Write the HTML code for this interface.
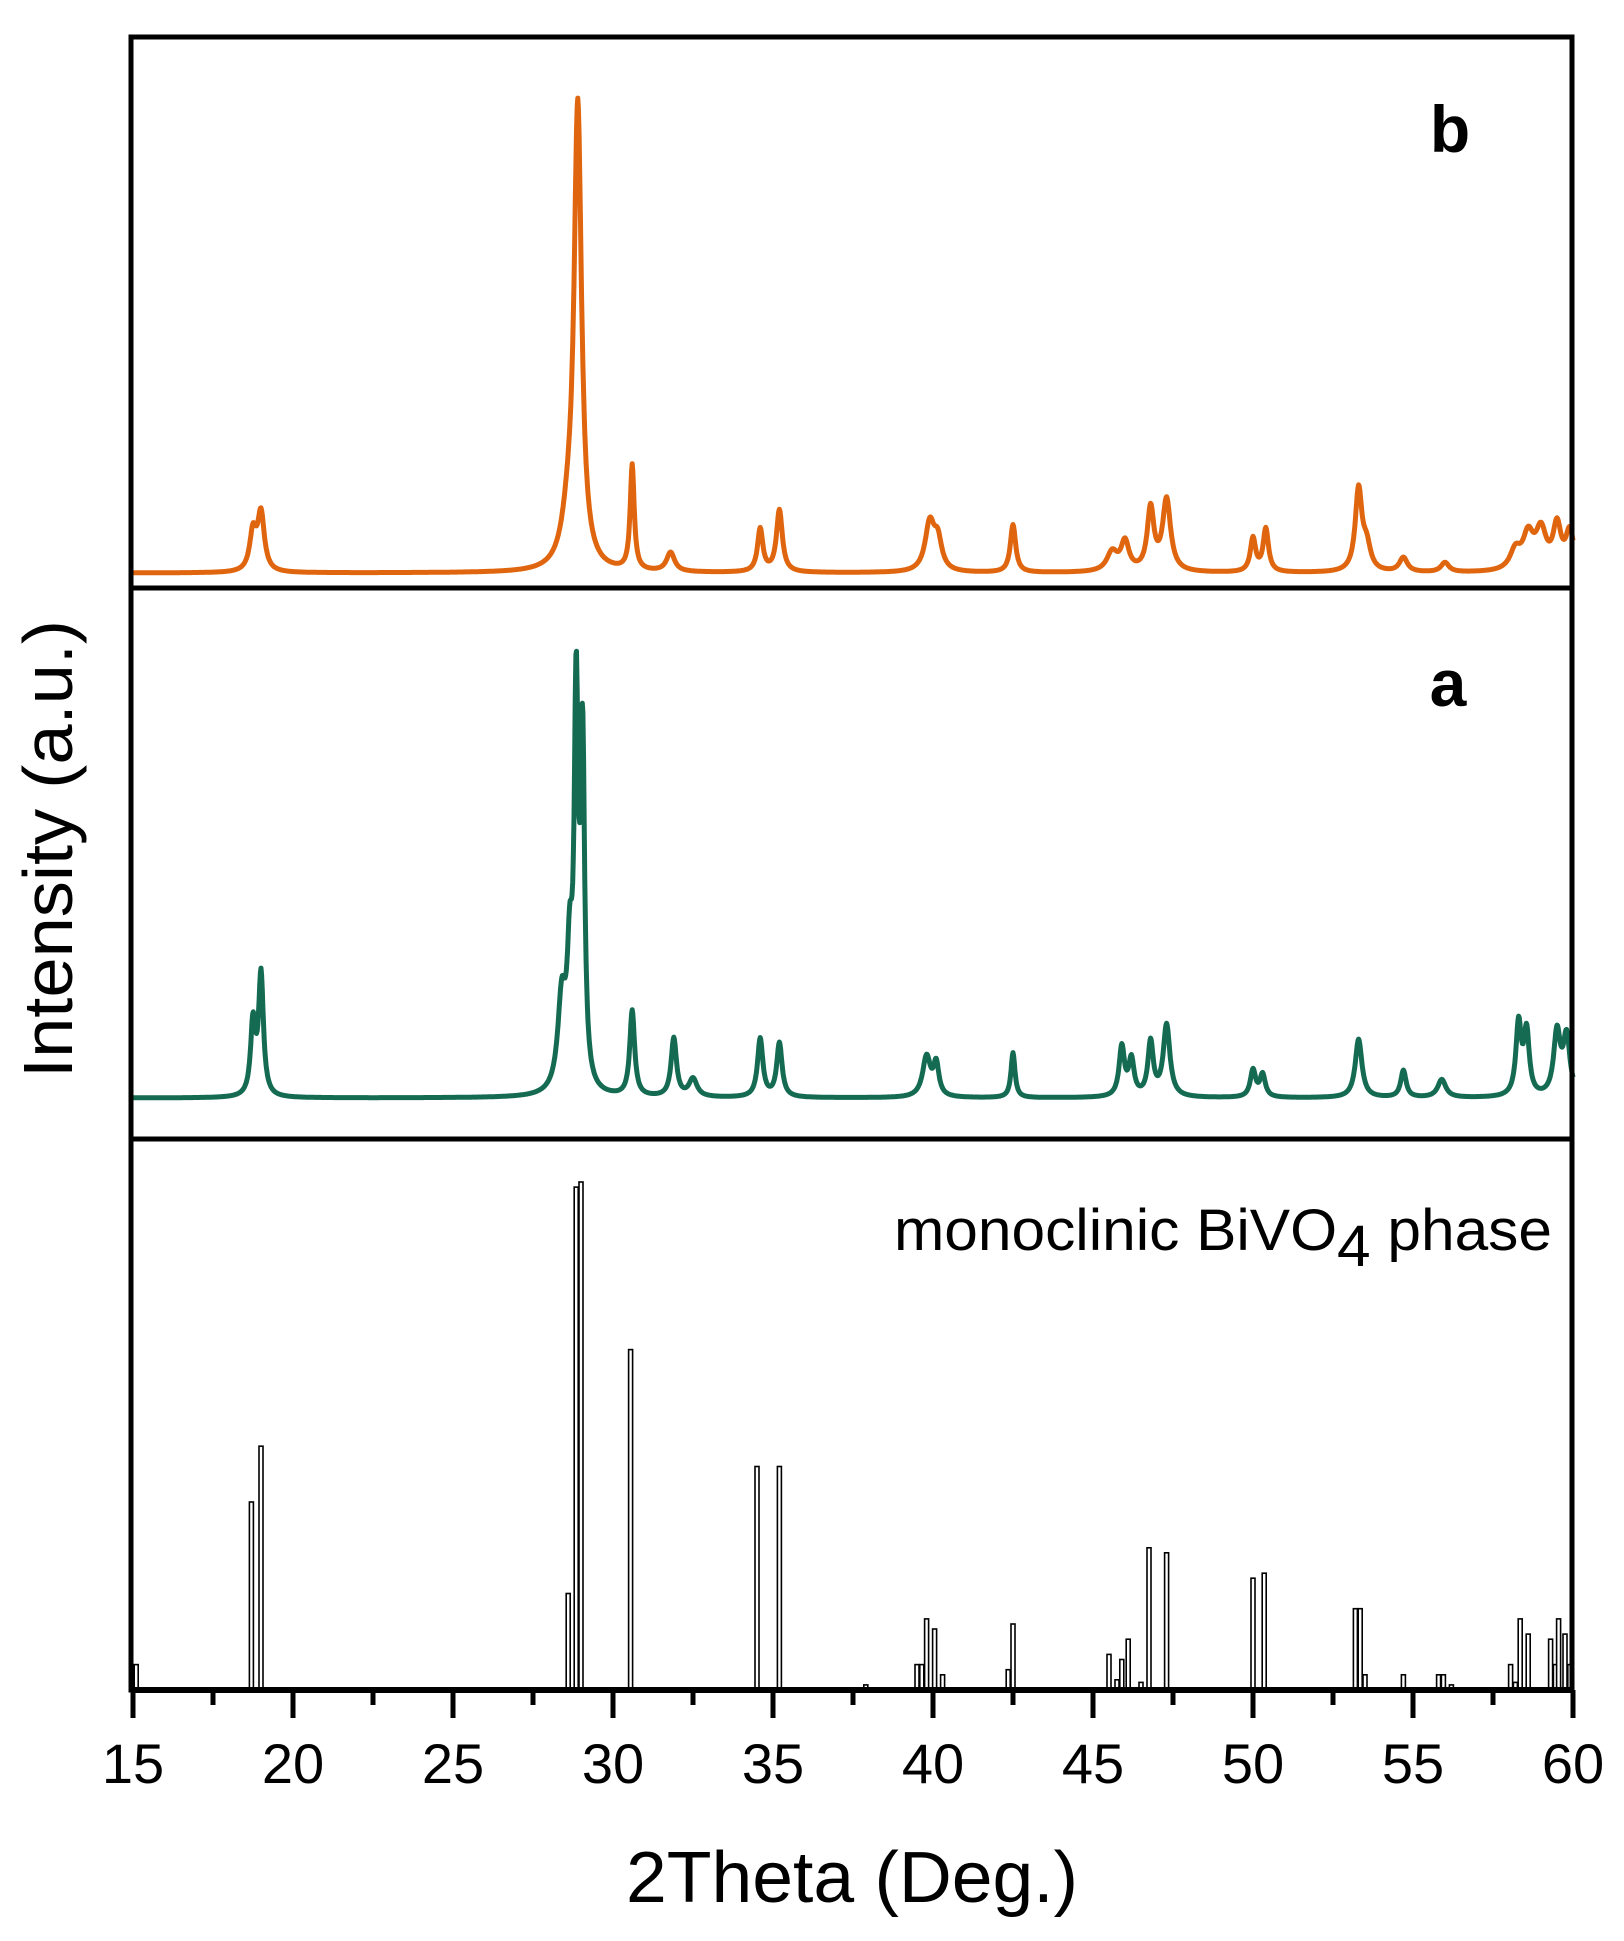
<!DOCTYPE html>
<html><head><meta charset="utf-8"><style>
html,body{margin:0;padding:0;background:#fff;}
svg{display:block;font-family:"Liberation Sans",Arial,sans-serif;}
</style></head><body>
<svg id="chart" width="1624" height="1941" viewBox="0 0 1624 1941" xmlns="http://www.w3.org/2000/svg">
<g id="plot"></g>
<g id="frame">
<rect x="131" y="37" width="1441" height="1653" fill="none" stroke="#000" stroke-width="5"/>
<line x1="131" y1="588" x2="1572" y2="588" stroke="#000" stroke-width="5"/>
<line x1="131" y1="1139" x2="1572" y2="1139" stroke="#000" stroke-width="5"/>
<line x1="131" y1="1690" x2="1574" y2="1690" stroke="#000" stroke-width="6"/>
</g>
<g id="ticks"></g>
<text x="1450" y="152" font-size="66" font-weight="bold" text-anchor="middle">b</text>
<text x="1448" y="706" font-size="66" font-weight="bold" text-anchor="middle">a</text>
<text x="1552" y="1250" font-size="58" text-anchor="end" textLength="658" lengthAdjust="spacingAndGlyphs">monoclinic BiVO<tspan dy="16">4</tspan><tspan dy="-16"> phase</tspan></text>
<text transform="translate(72,849) rotate(-90)" font-size="70" text-anchor="middle" textLength="458" lengthAdjust="spacingAndGlyphs">Intensity (a.u.)</text>
<text x="852" y="1902" font-size="72" text-anchor="middle" textLength="452" lengthAdjust="spacingAndGlyphs">2Theta (Deg.)</text>
</svg>
<script>
// x tick labels
const xTicks = [15, 20, 25, 30, 35, 40, 45, 50, 55, 60];
// reference sticks (monoclinic BiVO4)
const refPos = [15.1,18.7,19.0,28.6,28.85,29.0,30.55,34.5,35.2,37.9,39.5,39.65,39.8,40.05,40.3,42.35,42.5,45.5,45.75,45.9,46.1,46.5,46.75,47.3,50.0,50.35,53.2,53.35,53.5,54.7,55.8,55.95,56.2,58.05,58.2,58.35,58.6,59.3,59.45,59.55,59.75,59.9];
const refInt = [5,37,48,19,99,100,67,44,44,1,5,5,14,12,3,4,13,7,2,6,10,1.5,28,27,22,23,16,16,3,3,3,3,1,5,1.5,14,11,10,5,14,11,5];
// sample b peaks
const bPos = [18.75,19.0,28.6,28.9,30.6,31.8,34.6,35.2,39.9,40.15,42.5,45.6,46.0,46.8,47.3,50.0,50.4,53.3,53.55,54.7,56.0,58.2,58.6,59.0,59.5,59.9];
const bInt = [8,12,8,96,22,4,9,13,10,6,10,4,6,13,15,7,9,17,5,3,2,4,7,8,9,8];
const bWid = [0.25,0.25,0.5,0.28,0.15,0.3,0.2,0.22,0.35,0.3,0.2,0.4,0.3,0.25,0.3,0.2,0.2,0.25,0.3,0.3,0.3,0.4,0.4,0.4,0.3,0.3];
// sample a peaks
const aPos = [18.75,19.0,28.4,28.65,28.85,29.05,30.6,31.9,32.5,34.6,35.2,39.8,40.1,42.5,45.9,46.2,46.8,47.3,50.0,50.3,53.3,54.7,55.9,58.3,58.55,59.5,59.8];
const aInt = [16,27,20,25,84,75,19,13,4,13,12,9,7,10,11,8,12,16,6,5,13,6,4,16,14,14,13];
const aWid = [0.18,0.18,0.3,0.2,0.15,0.15,0.18,0.2,0.3,0.2,0.2,0.3,0.2,0.15,0.2,0.2,0.2,0.25,0.2,0.2,0.25,0.2,0.3,0.2,0.2,0.25,0.25];

const NS = "http://www.w3.org/2000/svg";
const X0 = 133, X1 = 1573;
function xs(d){ return X0 + (d - 15) * (X1 - X0) / 45; }
function yB(v){ return 573 - v * 4.78; }
function yA(v){ return 1098 - v * 4.5; }
function yR(v){ return 1690 - v * 5.08; }

const plot = document.getElementById('plot');
const ticks = document.getElementById('ticks');

function profile(pos, inten, wid, d){
  let s = 0;
  for (let i = 0; i < pos.length; i++){
    const g = (d - pos[i]) / (wid[i] / 2);
    s += inten[i] / (1 + g * g);
  }
  return s;
}
function drawSeries(pos, inten, wid, ys, color, name){
  let pts = [];
  for (let i = 0; i <= 2250; i++){
    const d = 15 + i * 0.02;
    pts.push(xs(d).toFixed(1) + ',' + ys(profile(pos, inten, wid, d)).toFixed(1));
  }
  const pl = document.createElementNS(NS, 'polyline');
  pl.setAttribute('points', pts.join(' '));
  pl.setAttribute('fill', 'none');
  pl.setAttribute('stroke', color);
  pl.setAttribute('stroke-width', '5');
  pl.setAttribute('stroke-linejoin', 'round');
  
  
  plot.appendChild(pl);
}
drawSeries(bPos, bInt, bWid, yB, '#e0650f', 'series-b-line');
drawSeries(aPos, aInt, aWid, yA, '#146b52', 'series-a-line');

for (let i = 0; i < refPos.length; i++){
  const r = document.createElementNS(NS, 'rect');
  const x = xs(refPos[i]), y = yR(refInt[i]);
  r.setAttribute('x', (x - 2).toFixed(1));
  r.setAttribute('y', y.toFixed(1));
  r.setAttribute('width', '4');
  r.setAttribute('height', (1690 - y).toFixed(1));
  r.setAttribute('fill', '#fff');
  r.setAttribute('stroke', '#000');
  r.setAttribute('stroke-width', '1.6');
  
  
  plot.appendChild(r);
}

for (let i = 0; i < xTicks.length; i++){
  const t = xTicks[i];
  const ln = document.createElementNS(NS, 'line');
  ln.setAttribute('x1', xs(t)); ln.setAttribute('x2', xs(t));
  ln.setAttribute('y1', 1690); ln.setAttribute('y2', 1718);
  ln.setAttribute('stroke', '#000'); ln.setAttribute('stroke-width', '5');
  
  
  ticks.appendChild(ln);
  if (i < xTicks.length - 1){
    const m = document.createElementNS(NS, 'line');
    const mx = xs(t + 2.5);
    m.setAttribute('x1', mx); m.setAttribute('x2', mx);
    m.setAttribute('y1', 1690); m.setAttribute('y2', 1705);
    m.setAttribute('stroke', '#000'); m.setAttribute('stroke-width', '5');
    
    
    ticks.appendChild(m);
  }
  const tx = document.createElementNS(NS, 'text');
  tx.setAttribute('x', xs(t)); tx.setAttribute('y', 1783);
  tx.setAttribute('font-size', '56');
  tx.setAttribute('text-anchor', 'middle');
  
  
  tx.textContent = t;
  ticks.appendChild(tx);
}
</script>
</body></html>
